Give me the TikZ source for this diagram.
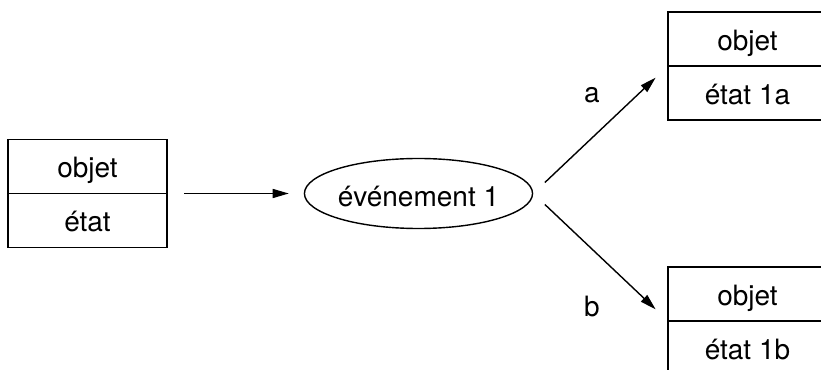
\documentclass[tikz,border=0pt]{standalone}
\usepackage{fontspec}
\setmainfont{TeX Gyre Heros}
\usetikzlibrary{arrows.meta, positioning, shapes.geometric}

\begin{document}
\begin{tikzpicture}[
  x=1pt, y=1pt,
  >={Triangle[length=8pt, width=4.5pt]}, line width=0.7pt,
  font=\fontsize{14}{17}\selectfont,
  node distance=0pt,
  cell/.style={draw, rectangle, minimum height=27pt, minimum width=79.5pt, inner sep=0pt, outer sep=0pt, text height=12pt, text depth=0.5pt},
  event/.style={draw, ellipse, minimum height=35pt, minimum width=110.5pt, inner sep=0pt, text height=13.5pt, text depth=0pt}
]
  \useasboundingbox (0,0) rectangle (410.5,185);

  % objet avant l'evenement
  \node[cell] (obj0) at (43.75,101.75) {objet};
  \node[cell, below=of obj0] (st0) {état};

  \node[event] (ev) at (209.25,88.25) {événement 1};

  % les deux issues possibles
  \node[cell] (objA) at (373.75,165.5) {objet};
  \node[cell, below=of objA] (stA) {état 1a};
  \node[cell] (objB) at (373.75,38) {objet};
  \node[cell, below=of objB] (stB) {état 1b};

  \draw[->, shorten <=8.5pt, shorten >=7.5pt] (obj0.south east) -- (obj0.south east -| ev.west);
  \draw[->, shorten <=8pt, shorten >=8.5pt] (ev.east) -- (objA.south west);
  \draw[->, shorten <=8pt, shorten >=8.5pt] (ev.east) -- (objB.south west);

  \node (la) at (296,137.5) {a};
  \node (lb) at (296,31.5) {b};

\end{tikzpicture}
\end{document}
